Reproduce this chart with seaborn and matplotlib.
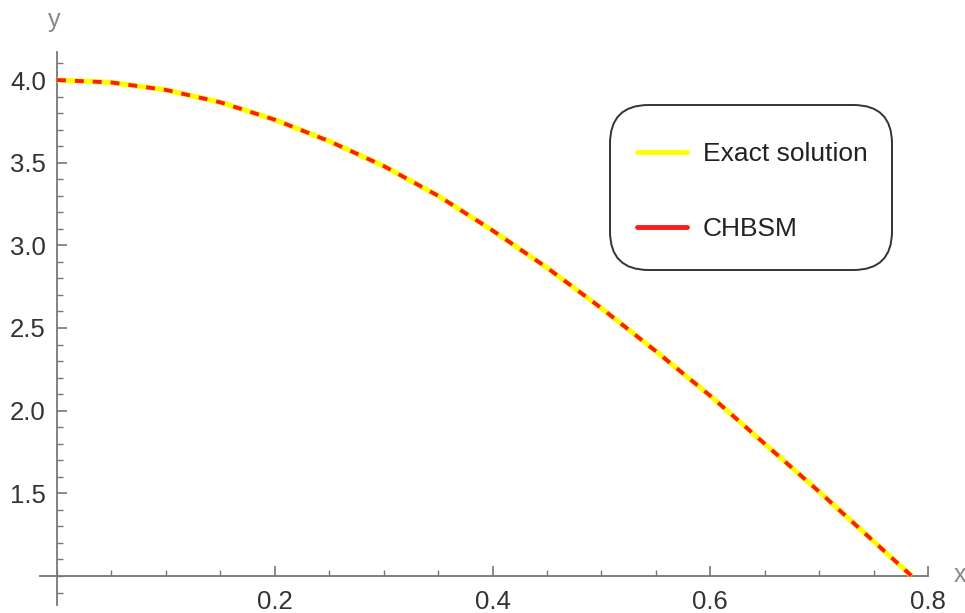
import matplotlib
matplotlib.use("Agg")
import matplotlib.pyplot as plt
import seaborn as sns
import numpy as np
import pandas as pd
from matplotlib.patches import FancyBboxPatch
from matplotlib.ticker import MultipleLocator
from matplotlib.lines import Line2D

# Data
x_vals = [0.0, 0.05, 0.10, 0.15, 0.20, 0.25, 0.30, 0.35, 0.40, 0.45, 0.50,
          0.55, 0.60, 0.65, 0.70, 0.75, 0.785]
exact_y = [4.00, 3.985, 3.94, 3.865, 3.76, 3.63, 3.48, 3.30, 3.09, 2.865, 2.62,
           2.36, 2.09, 1.80, 1.51, 1.21, 1.00]
chbsm_y = [4.00, 3.985, 3.94, 3.865, 3.76, 3.63, 3.48, 3.30, 3.09, 2.865, 2.62,
           2.36, 2.09, 1.80, 1.51, 1.21, 1.00]
series_names = ["Exact solution", "CHBSM"]
x_ticks = [0.2, 0.4, 0.6, 0.8]
y_ticks = [1.5, 2.0, 2.5, 3.0, 3.5, 4.0]

sns.set_theme(style="white")
plt.rcParams['font.family'] = ['Liberation Sans', 'DejaVu Sans']

W, H = 965, 613
fig = plt.figure(figsize=(W / 100, H / 100), dpi=100)

# axes box in pixels
px_left, px_right, px_top, px_bottom = 40, 935, 52, 605
ax = fig.add_axes([px_left / W, 1 - px_bottom / H,
                   (px_right - px_left) / W, (px_bottom - px_top) / H])

# x=0 -> px 57, x=0.8 -> px 928 ; y=4 -> px 80, y=1 -> px 576
x0p, x8p = 57, 928
sx = (x8p - x0p) / 0.8
xl = (px_left - x0p) / sx
xr = 0.8 + (px_right - x8p) / sx
y4p, y1p = 80, 576
sy = (y1p - y4p) / 3.0
yt = 4.0 + (y4p - px_top) / sy
yb = 1.0 - (px_bottom - y1p) / sy

df_exact = pd.DataFrame({"x": x_vals, "y": exact_y})
df_chbsm = pd.DataFrame({"x": x_vals, "y": chbsm_y})

sns.lineplot(data=df_exact, x="x", y="y", ax=ax, color="#ffff00", lw=3.8,
             solid_capstyle="butt", zorder=3)
sns.lineplot(data=df_chbsm, x="x", y="y", ax=ax, color="#ff1a1a", lw=2.8,
             dashes=False, zorder=4)
ax.lines[-1].set_linestyle((0, (2.3, 2.3)))
ax.lines[-1].set_dash_capstyle("butt")

ax.set_xlim(xl, xr)
ax.set_ylim(yb, yt)

for s in ["top", "right"]:
    ax.spines[s].set_visible(False)
ax.spines["left"].set_position(("data", 0))
ax.spines["bottom"].set_position(("data", 1))
ax.spines["bottom"].set_bounds(xl, 0.8)
for s in ["left", "bottom"]:
    ax.spines[s].set_color("#777777")
    ax.spines[s].set_linewidth(1.3)

ax.set_xticks(x_ticks)
ax.set_yticks(y_ticks)
ax.xaxis.set_minor_locator(MultipleLocator(0.05))
ax.yaxis.set_minor_locator(MultipleLocator(0.1))
ax.tick_params(axis="both", which="both", direction="in", left=True,
               bottom=True, top=False, right=False, color="#777777")
ax.tick_params(axis="both", which="major", length=7, width=1.2,
               labelsize=18.5, labelcolor="#333333")
ax.tick_params(axis="both", which="minor", length=4.5, width=1.0)
ax.tick_params(axis="x", which="major", pad=10)
ax.tick_params(axis="y", which="major", pad=8)
ax.set_xticklabels([f"{v:.1f}" for v in x_ticks])
ax.set_yticklabels([f"{v:.1f}" for v in y_ticks])
ax.set_xlabel("")
ax.set_ylabel("")

# axis name labels
fig.text(54 / W, 1 - 20 / H, "y", ha="center", va="center", fontsize=18,
         color="#888888")
fig.text(960 / W, 1 - 575 / H, "x", ha="center", va="center", fontsize=18,
         color="#888888")

# legend box
box = FancyBboxPatch((610 / W, 1 - 270 / H), (892 - 610) / W, (270 - 105) / H,
                     boxstyle="round,pad=0,rounding_size=0.04",
                     transform=fig.transFigure, facecolor="white",
                     edgecolor="#333333", linewidth=1.4, zorder=5,
                     mutation_aspect=W / H)
fig.patches.append(box)

handles = [Line2D([], [], color="#ffff00", lw=3.5),
           Line2D([], [], color="#ff1a1a", lw=3.5)]
leg = fig.legend(handles, series_names, loc="upper left",
                 bbox_to_anchor=(637 / W, 1 - 142 / H), frameon=False,
                 fontsize=19, handlelength=1.9, handletextpad=0.6,
                 labelspacing=1.93, borderpad=0, borderaxespad=0)
for t in leg.get_texts():
    t.set_color("#222222")
leg.set_zorder(6)

fig.savefig("out.png", dpi=100)
